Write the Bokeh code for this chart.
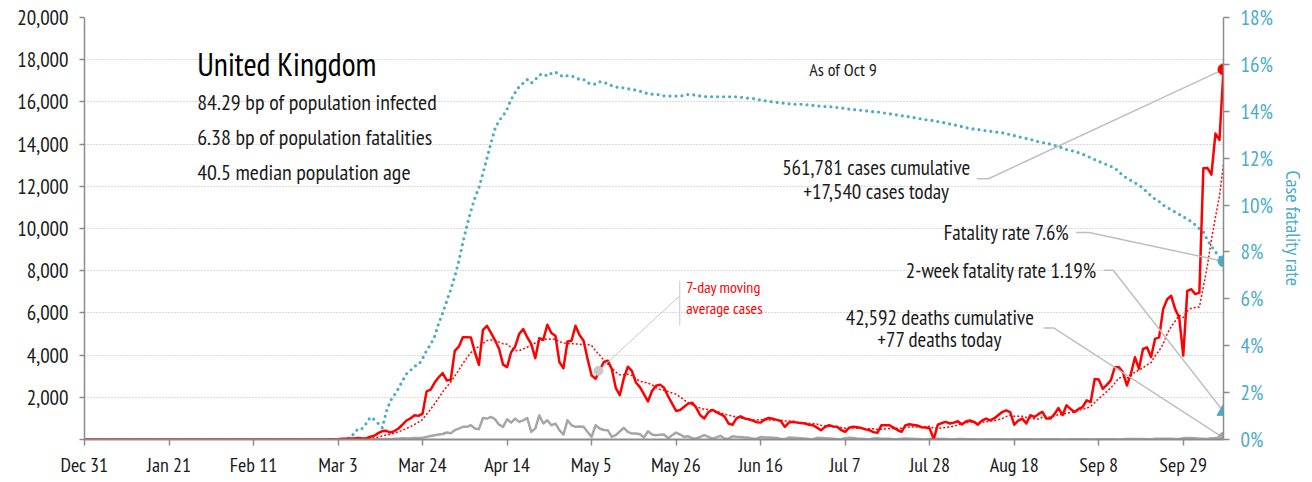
import pandas as pd
from bokeh.plotting import figure
from bokeh.models import (Range1d, LinearAxis, FixedTicker, NumeralTickFormatter,
                          PrintfTickFormatter, Label)
from bokeh.embed import file_html
from bokeh.resources import INLINE

# ---------------- data ----------------
tick_days = [0, 21, 42, 63, 84, 105, 126, 147, 168, 189, 210, 231, 252, 273]
tick_labels = ["Dec 31", "Jan 21", "Feb 11", "Mar 3", "Mar 24", "Apr 14", "May 5",
               "May 26", "Jun 16", "Jul 7", "Jul 28", "Aug 18", "Sep 8", "Sep 29"]

# daily new cases, one row per week starting Dec 31
cases_w = [
    [0, 0, 0, 0, 0, 0, 0],
    [0, 0, 0, 0, 0, 0, 0],
    [0, 0, 0, 0, 0, 0, 0],
    [0, 0, 0, 0, 0, 0, 0],
    [0, 0, 0, 2, 0, 0, 0],
    [0, 0, 0, 1, 0, 0, 4],
    [0, 0, 0, 1, 0, 0, 0],
    [0, 0, 0, 0, 0, 0, 0],
    [0, 0, 3, 4, 3, 12, 4],
    [11, 34, 30, 48, 43, 67, 48],
    [52, 130, 175, 300, 400, 410, 330],
    [400, 520, 700, 900, 1000, 1150, 1120],
    [1230, 2280, 2360, 2700, 2950, 3150, 2800],
    [2830, 4200, 4400, 4850, 4850, 4840, 4135],
    [3540, 5200, 5390, 5050, 4700, 4300, 3550],
    [3430, 4135, 4400, 5000, 5235, 4845, 4530],
    [3850, 4800, 4730, 5440, 5050, 4920, 3665],
    [3380, 4640, 4680, 5390, 4950, 4680, 3820],
    [3030, 2880, 3270, 3665, 3740, 3350, 2450],
    [2100, 2900, 3450, 3250, 2700, 2480, 2150],
    [1800, 2300, 2550, 2600, 2450, 2050, 1700],
    [1350, 1400, 1550, 1700, 1745, 1500, 1150],
    [1000, 1300, 1400, 1300, 1200, 1100, 760],
    [690, 1000, 1100, 1000, 960, 900, 820],
    [800, 950, 1020, 980, 930, 880, 600],
    [800, 835, 800, 780, 755, 700, 675],
    [560, 440, 600, 675, 620, 600, 450],
    [360, 560, 600, 580, 550, 480, 440],
    [350, 315, 675, 680, 675, 560, 450],
    [360, 680, 720, 690, 660, 580, 565],
    [520, 20, 700, 780, 835, 760, 800],
    [865, 710, 850, 900, 835, 700, 900],
    [990, 910, 1000, 1150, 1300, 1385, 1300],
    [700, 900, 990, 755, 1150, 1070, 1200],
    [1305, 990, 990, 1200, 1490, 1150, 1620],
    [1450, 1305, 1450, 1540, 1855, 1775, 2870],
    [2840, 2400, 2590, 2800, 3430, 3430, 3190],
    [2560, 3115, 3900, 3350, 4290, 4370, 3900],
    [4770, 4840, 6180, 6650, 6810, 6180, 5780],
    [3975, 7045, 7120, 6890, 6960, 12860, 12870],
    [12550, 14500, 14200, 17540],
]

# daily deaths
deaths_w = [
    [0, 0, 0, 0, 0, 0, 0],
    [0, 0, 0, 0, 0, 0, 0],
    [0, 0, 0, 0, 0, 0, 0],
    [0, 0, 0, 0, 0, 0, 0],
    [0, 0, 0, 0, 0, 0, 0],
    [0, 0, 0, 0, 0, 0, 0],
    [0, 0, 0, 0, 0, 0, 0],
    [0, 0, 0, 0, 0, 0, 0],
    [0, 0, 0, 0, 0, 0, 0],
    [0, 0, 1, 0, 1, 1, 0],
    [2, 1, 1, 10, 14, 20, 16],
    [33, 40, 56, 48, 54, 70, 70],
    [80, 125, 170, 205, 235, 260, 330],
    [300, 440, 520, 600, 600, 675, 520],
    [490, 1020, 990, 1070, 960, 700, 600],
    [960, 800, 990, 835, 910, 1020, 360],
    [520, 1145, 755, 910, 675, 755, 440],
    [235, 910, 675, 600, 620, 600, 360],
    [125, 675, 520, 450, 440, 125, 205],
    [380, 550, 360, 280, 280, 250, 100],
    [390, 235, 205, 220, 235, 60, 200],
    [330, 235, 125, 150, 60, 50, 120],
    [205, 125, 40, 100, 175, 47, 40],
    [150, 130, 120, 100, 90, 40, 30],
    [120, 100, 90, 80, 70, 20, 20],
    [90, 80, 70, 60, 50, 20, 15],
    [80, 70, 60, 50, 40, 15, 10],
    [60, 80, 70, 50, 40, 20, 10],
    [50, 60, 40, 40, 30, 10, 8],
    [40, 50, 40, 30, 25, 10, 5],
    [30, 20, 30, 20, 20, 10, 5],
    [20, 20, 15, 15, 10, 5, 5],
    [15, 15, 10, 10, 10, 5, 3],
    [10, 12, 10, 10, 8, 4, 2],
    [10, 10, 8, 8, 6, 3, 2],
    [10, 12, 10, 8, 6, 3, 5],
    [15, 10, 15, 12, 10, 5, 10],
    [20, 25, 20, 25, 20, 15, 15],
    [30, 35, 40, 35, 30, 25, 20],
    [60, 70, 70, 60, 40, 30, 20],
    [60, 70, 85, 77],
]

# case fatality rate, percent
cfr_w = [
    [0, 0, 0, 0, 0, 0, 0],
    [0, 0, 0, 0, 0, 0, 0],
    [0, 0, 0, 0, 0, 0, 0],
    [0, 0, 0, 0, 0, 0, 0],
    [0, 0, 0, 0, 0, 0, 0],
    [0, 0, 0, 0, 0, 0, 0],
    [0, 0, 0, 0, 0, 0, 0],
    [0, 0, 0, 0, 0, 0, 0],
    [0, 0, 0, 0, 0, 0, 0],
    [0, 0, 0, 0.1, 0.25, 0.47, 0.47],
    [0.68, 0.95, 0.85, 0.68, 0.5, 1.2, 1.65],
    [1.9, 2.17, 2.5, 2.8, 2.95, 3.13, 3.18],
    [3.45, 3.8, 4.05, 4.4, 4.95, 5.4, 5.9],
    [6.4, 6.95, 7.6, 8.4, 9.1, 9.75, 10.3],
    [10.75, 11.35, 12.0, 12.65, 13.25, 13.6, 13.8],
    [14.1, 14.5, 14.8, 15.05, 15.2, 15.35, 15.2],
    [15.35, 15.55, 15.6, 15.5, 15.62, 15.68, 15.55],
    [15.47, 15.52, 15.5, 15.45, 15.35, 15.36, 15.21],
    [15.18, 15.15, 15.26, 15.22, 15.19, 15.09, 15.04],
    [15.0, 15.0, 14.96, 14.93, 14.9, 14.86, 14.79],
    [14.76, 14.73, 14.73, 14.7, 14.66, 14.65, 14.65],
    [14.65, 14.65, 14.68, 14.72, 14.7, 14.69, 14.65],
    [14.63, 14.62, 14.62, 14.62, 14.62, 14.62, 14.62],
    [14.62, 14.62, 14.6, 14.58, 14.56, 14.55, 14.52],
    [14.47, 14.45, 14.42, 14.4, 14.38, 14.36, 14.34],
    [14.32, 14.3, 14.3, 14.3, 14.28, 14.27, 14.25],
    [14.23, 14.21, 14.2, 14.2, 14.18, 14.16, 14.14],
    [14.12, 14.09, 14.07, 14.06, 14.04, 14.02, 14.0],
    [13.98, 13.97, 13.95, 13.92, 13.89, 13.87, 13.84],
    [13.81, 13.79, 13.76, 13.73, 13.7, 13.67, 13.64],
    [13.62, 13.6, 13.56, 13.53, 13.5, 13.46, 13.43],
    [13.38, 13.35, 13.3, 13.27, 13.24, 13.22, 13.2],
    [13.17, 13.15, 13.13, 13.1, 13.08, 13.05, 13.0],
    [12.96, 12.92, 12.88, 12.84, 12.8, 12.75, 12.7],
    [12.67, 12.63, 12.6, 12.55, 12.5, 12.43, 12.37],
    [12.33, 12.29, 12.23, 12.17, 12.1, 12.02, 11.94],
    [11.86, 11.8, 11.72, 11.65, 11.57, 11.43, 11.25],
    [11.15, 11.05, 10.95, 10.85, 10.72, 10.55, 10.4],
    [10.25, 10.15, 10.0, 9.9, 9.8, 9.7, 9.6],
    [9.5, 9.4, 9.3, 9.15, 9.0, 8.85, 8.5],
    [8.25, 8.0, 7.8, 7.6],
]

two_week_cfr = 1.19
cases_cumulative = "561,781"
deaths_cumulative = "42,592"
country = "United Kingdom"
stats_lines = ["84.29 bp of population infected",
               "6.38 bp of population fatalities",
               "40.5 median population age"]
as_of = "As of Oct 9"

cases = sum(cases_w, [])
deaths = sum(deaths_w, [])
cfr = sum(cfr_w, [])
days = list(range(len(cases)))
ma7 = pd.Series(cases).rolling(7, min_periods=1).mean().tolist()

# ---------------- styling ----------------
FONT = "PT Sans Narrow"
RED = "#ff0000"
BLUE = "#4bacc6"
GREY = "#a6a6a6"
LEAD = "#bfbfbf"
TXT = "#1a1a1a"
AX = "#8c8c8c"

Y_MAX = 20000
R_MAX = 18
k = Y_MAX / R_MAX  # left-axis units per percent

p = figure(width=1308, height=480, output_backend="svg", toolbar_location=None,
           x_range=Range1d(0, days[-1]), y_range=Range1d(0, Y_MAX),
           min_border_left=84, min_border_right=80, min_border_top=17, min_border_bottom=39)
p.outline_line_color = None
p.background_fill_color = "white"
p.border_fill_color = "white"

p.xgrid.visible = False
p.ygrid.grid_line_color = "#b5b5b5"
p.ygrid.grid_line_dash = "1 2"
p.ygrid.grid_line_width = 1

# left axis
yax = p.yaxis[0]
yax.ticker = FixedTicker(ticks=list(range(0, Y_MAX + 1, 2000)))
yax.formatter = NumeralTickFormatter(format="0,0")
yax.major_label_overrides = {0: ""}
yax.axis_line_color = AX
yax.axis_line_width = 1.5
yax.major_tick_line_color = AX
yax.major_tick_line_width = 1.5
yax.major_tick_out = 5
yax.major_tick_in = 0
yax.minor_tick_line_color = None
yax.major_label_standoff = 11
yax.major_label_text_font = FONT
yax.major_label_text_font_size = "21px"
yax.major_label_text_color = TXT

# bottom axis
xax = p.xaxis[0]
xax.ticker = FixedTicker(ticks=tick_days)
xax.major_label_overrides = {d: lab for d, lab in zip(tick_days, tick_labels)}
xax.axis_line_color = AX
xax.axis_line_width = 2
xax.major_tick_line_color = AX
xax.major_tick_line_width = 1.5
xax.major_tick_out = 6
xax.major_tick_in = 0
xax.minor_tick_line_color = None
xax.major_label_standoff = 6
xax.major_label_text_font = FONT
xax.major_label_text_font_size = "20px"
xax.major_label_text_color = TXT

# right axis
p.extra_y_ranges = {"cfr": Range1d(0, R_MAX)}
rax = LinearAxis(y_range_name="cfr", ticker=FixedTicker(ticks=list(range(0, R_MAX + 1, 2))),
                 formatter=PrintfTickFormatter(format="%d%%"),
                 axis_label="Case fatality rate")
rax.axis_line_color = AX
rax.axis_line_width = 1.5
rax.major_tick_line_color = AX
rax.major_tick_line_width = 1.5
rax.major_tick_out = 6
rax.major_tick_in = 0
rax.minor_tick_line_color = None
rax.major_label_standoff = 11
rax.major_label_text_font = FONT
rax.major_label_text_font_size = "21px"
rax.major_label_text_color = BLUE
rax.axis_label_text_font = FONT
rax.axis_label_text_font_size = "20px"
rax.axis_label_text_font_style = "normal"
rax.axis_label_text_color = BLUE
rax.axis_label_standoff = 4
p.add_layout(rax, "right")

# ---------------- series ----------------
p.line(days, cfr, y_range_name="cfr", line_color=BLUE, line_width=3.2,
       line_dash="0 6", line_cap="round")
p.line(days, deaths, line_color=GREY, line_width=2.5, line_join="round")
p.line(days, ma7, line_color=RED, line_width=1.5, line_dash="2 2")
p.line(days, cases, line_color=RED, line_width=2.5, line_join="round")

# ---------------- leader lines ----------------
last = days[-1]
p.line([221.7, 224.6, last], [12360, 12360, cases[-1]], line_color=LEAD, line_width=1.5)
p.line([246.4, 249.6, last], [9811, 9811, cfr[-1] * k], line_color=LEAD, line_width=1.5)
p.line([253.2, 255.6, last], [8019, 8019, two_week_cfr * k], line_color=LEAD, line_width=1.5)
p.line([238.3, 240.9, last], [5280, 5280, deaths[-1]], line_color=LEAD, line_width=1.5)
# 7-day MA callout
p.line([147.9, 147.9], [7520, 5430], line_color="#c8c8c8", line_width=1)
p.line([147.9, 127.7], [6810, 3255], line_color="#c8c8c8", line_width=1)
p.scatter([127.7], [3255], size=9, color="#c8c8c8")

# end markers
p.scatter([last], [cases[-1]], size=11, color=RED)
p.scatter([last], [cfr[-1]], y_range_name="cfr", size=11, color=BLUE)
p.scatter([last], [two_week_cfr], y_range_name="cfr", marker="triangle", size=13, color=BLUE)
p.scatter([last], [deaths[-1]], size=11, color=GREY)

# ---------------- texts ----------------
def lab(x, y, text, size, align="left", color=TXT):
    p.add_layout(Label(x=x, y=y, text=text, text_font=FONT, text_font_size=size,
                       text_align=align, text_baseline="middle", text_color=color))

lab(28.0, 17800, country, "32px", color="#000000")
for i, s in enumerate(stats_lines):
    lab(28.0, 15990 - i * 1650, s, "22px")

lab(180.1, 17550, as_of, "18px")
lab(196.7, 12880, f"{cases_cumulative} cases cumulative", "21px", align="center")
lab(196.7, 11750, f"+{cases[-1]:,} cases today", "21px", align="center")
lab(244.7, 9811, f"Fatality rate {cfr[-1]}%", "21px", align="right")
lab(251.6, 8019, f"2-week fatality rate {two_week_cfr}%", "21px", align="right")
lab(212.5, 5800, f"{deaths_cumulative} deaths cumulative", "21px", align="center")
lab(212.5, 4720, f"+{deaths[-1]} deaths today", "21px", align="center")
lab(149.5, 7220, "7-day moving", "16px", color=RED)
lab(149.5, 6230, "average cases", "16px", color=RED)

open("out.html", "w").write(file_html(p, INLINE))
